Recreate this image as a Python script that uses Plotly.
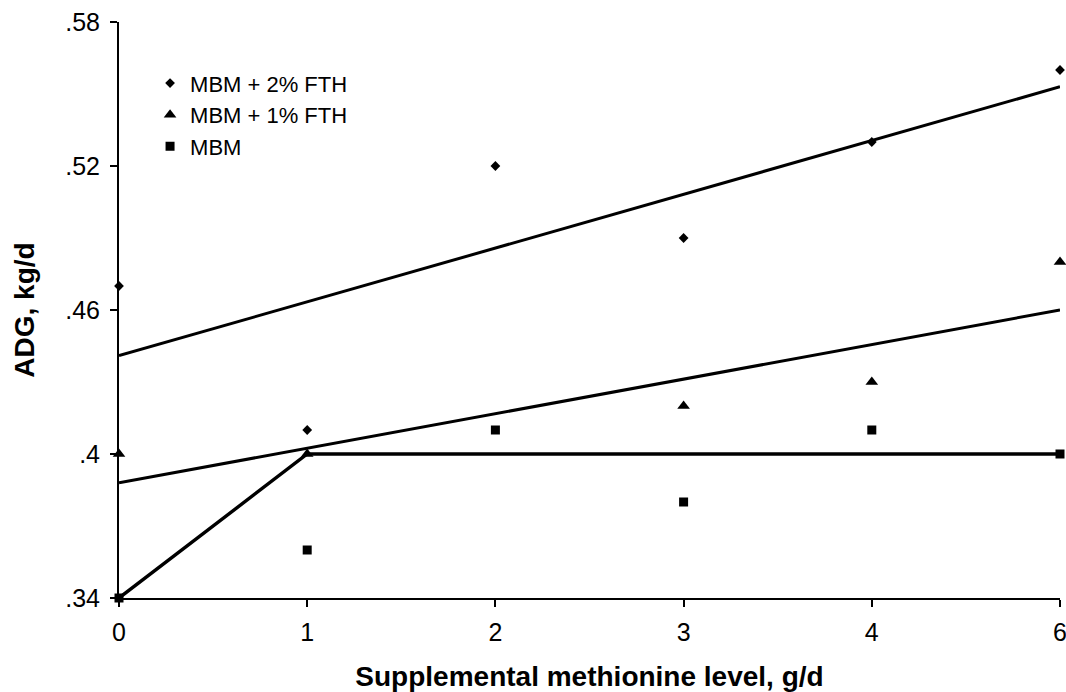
import plotly.graph_objects as go

# Categories (supplemental methionine level, g/d)
x_labels = ["0", "1", "2", "3", "4", "6"]
x_pos = [0, 1, 2, 3, 4, 5]

# Observed ADG, kg/d
adg_2pct = [0.47, 0.41, 0.52, 0.49, 0.53, 0.56]
adg_1pct = [0.40, 0.40, None, 0.42, 0.43, 0.48]
adg_mbm = [0.34, 0.36, 0.41, 0.38, 0.41, 0.40]

# Fitted lines (endpoints on category positions)
fit_2pct_x = [0, 5]
fit_2pct_y = [0.441, 0.553]
fit_1pct_x = [0, 5]
fit_1pct_y = [0.388, 0.460]
fit_mbm_x = [0, 1, 5]
fit_mbm_y = [0.34, 0.40, 0.40]

y_ticks = [0.34, 0.40, 0.46, 0.52, 0.58]
y_ticktext = [".34", ".4", ".46", ".52", ".58"]

FONT = "Liberation Sans, Arial, sans-serif"

fig = go.Figure()

for fx, fy, w in [(fit_2pct_x, fit_2pct_y, 3), (fit_1pct_x, fit_1pct_y, 3), (fit_mbm_x, fit_mbm_y, 3.4)]:
    fig.add_trace(go.Scatter(x=fx, y=fy, mode="lines",
                             line=dict(color="black", width=w),
                             showlegend=False, hoverinfo="skip", cliponaxis=False))

fig.add_trace(go.Scatter(x=x_pos, y=adg_2pct, mode="markers", name="MBM + 2% FTH",
                         marker=dict(symbol="diamond", size=7.5, color="black"),
                         cliponaxis=False))
fig.add_trace(go.Scatter(x=x_pos, y=adg_1pct, mode="markers", name="MBM + 1% FTH",
                         marker=dict(symbol="triangle-up", size=11, color="black"),
                         cliponaxis=False))
fig.add_trace(go.Scatter(x=x_pos, y=adg_mbm, mode="markers", name="MBM",
                         marker=dict(symbol="square", size=9, color="black"),
                         cliponaxis=False))

fig.update_layout(
    width=1066, height=692,
    margin=dict(l=119, r=6, t=22, b=94, autoexpand=False),
    paper_bgcolor="white", plot_bgcolor="white",
    font=dict(family=FONT, color="black", size=25),
    legend=dict(x=0.033, y=0.93, xanchor="left", yanchor="top",
                bgcolor="rgba(0,0,0,0)", font=dict(size=22, family=FONT),
                itemsizing="trace", tracegroupgap=0, itemwidth=30),
    xaxis=dict(
        range=[0, 5], tickmode="array", tickvals=x_pos, ticktext=x_labels,
        showgrid=False, zeroline=False, showline=True, linecolor="black", linewidth=2,
        ticks="outside", ticklen=7, tickwidth=2, tickcolor="black",
        ticklabelstandoff=4, ticklabeloverflow="allow", automargin=False,
        tickfont=dict(size=25, family=FONT),
        title=dict(text="Supplemental methionine level, g/d",
                   font=dict(size=28, family=FONT, weight="bold"), standoff=22),
    ),
    yaxis=dict(
        range=[0.34, 0.58], tickmode="array", tickvals=y_ticks, ticktext=y_ticktext,
        showgrid=False, zeroline=False, showline=True, linecolor="black", linewidth=2,
        ticks="outside", ticklen=7, tickwidth=2, tickcolor="black",
        ticklabelstandoff=5, ticklabeloverflow="allow",
        tickfont=dict(size=25, family=FONT),
        title=dict(text="ADG, kg/d",
                   font=dict(size=28, family=FONT, weight="bold"), standoff=22),
    ),
)

fig.write_html("out.html", config={"displayModeBar": False},
               post_script="document.body.style.margin='0px';")
